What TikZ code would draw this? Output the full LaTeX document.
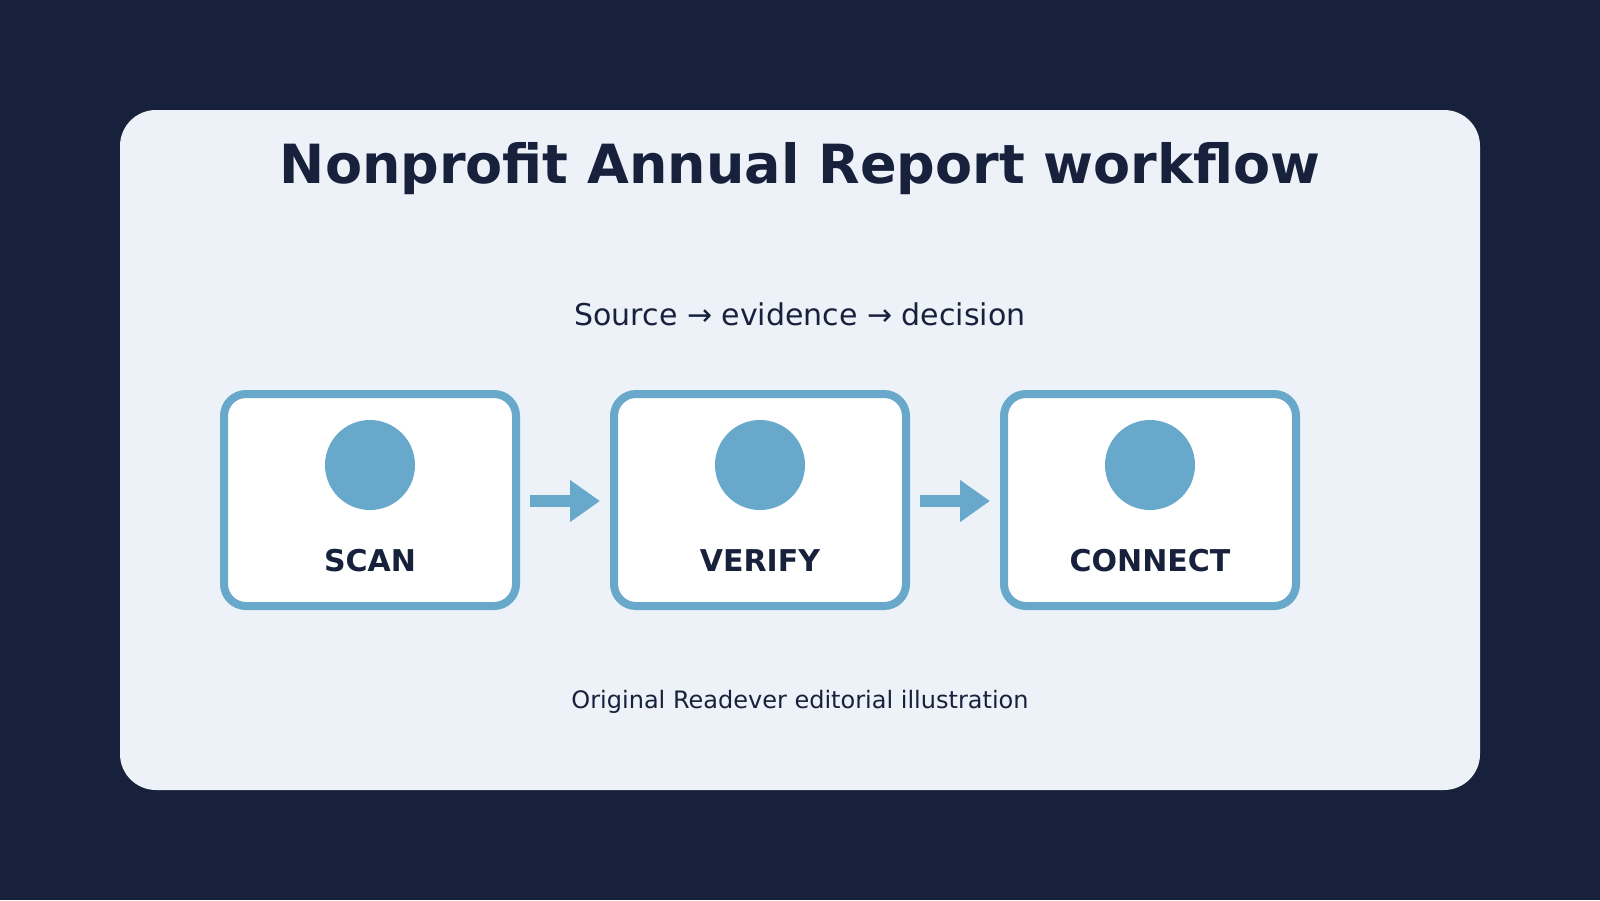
\documentclass[tikz,border=0pt]{standalone}
\usepackage{fontspec}
\setmainfont{DejaVu Sans}
\usetikzlibrary{arrows.meta}
\definecolor{navy}{HTML}{17213B}
\definecolor{panel}{HTML}{EDF2F9}
\definecolor{accent}{HTML}{68A8CB}
\begin{document}
\begin{tikzpicture}[x=1pt,y=-1pt,
  stepbox/.style={draw=accent, line width=8pt, fill=white, rounded corners=22pt,
    minimum width=292pt, minimum height=212pt, inner sep=0pt, outer sep=0pt},
  dot/.style={circle, fill=accent, minimum size=90pt, inner sep=0pt, outer sep=0pt},
  lbl/.style={anchor=base, text=navy, inner sep=0pt, font=\fontsize{30}{36}\selectfont\bfseries},
  flow/.style={draw=accent, line width=12pt, -{Triangle[length=30pt,width=40pt]}},
  txt/.style={anchor=base, text=navy, inner sep=0pt}]
\fill[navy] (0,0) rectangle (1600,900);
\useasboundingbox (0,0) rectangle (1600,900);
\fill[panel, rounded corners=36pt] (120,110) rectangle (1480,790);
\node[txt, font=\fontsize{54}{60}\selectfont\bfseries] (title) at (800,183) {Nonprofit Annual Report workflow};
\node[txt, font=\fontsize{30}{36}\selectfont] (sub) at (800,325) {Source → evidence → decision};
\node[txt, font=\fontsize{24}{30}\selectfont] (foot) at (800,708) {Original Readever editorial illustration};
\node[stepbox] (b1) at (370,500) {};
\node[stepbox] (b2) at (760,500) {};
\node[stepbox] (b3) at (1150,500) {};
\node[dot] (d1) at (370,465) {};
\node[dot] (d2) at (760,465) {};
\node[dot] (d3) at (1150,465) {};
\node[lbl] (l1) at (370,571) {SCAN};
\node[lbl] (l2) at (760,571) {VERIFY};
\node[lbl] (l3) at (1150,571) {CONNECT};
\draw[flow] ([xshift=14pt,yshift=-1pt]b1.east) -- ([xshift=-14pt,yshift=-1pt]b2.west);
\draw[flow] ([xshift=14pt,yshift=-1pt]b2.east) -- ([xshift=-14pt,yshift=-1pt]b3.west);
\end{tikzpicture}
\end{document}
